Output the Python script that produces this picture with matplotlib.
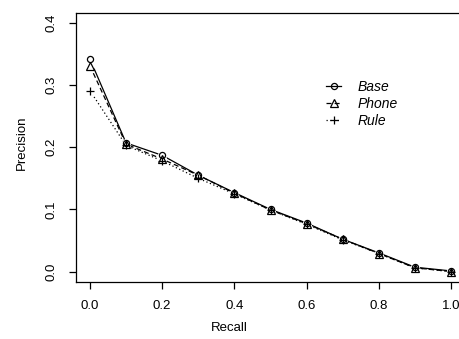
import matplotlib
matplotlib.use("Agg")
import matplotlib.pyplot as plt

recall = [0.0, 0.1, 0.2, 0.3, 0.4, 0.5, 0.6, 0.7, 0.8, 0.9, 1.0]
base = [0.342, 0.207, 0.187, 0.155, 0.127, 0.100, 0.078, 0.052, 0.030, 0.007, 0.001]
phone = [0.331, 0.205, 0.181, 0.155, 0.126, 0.099, 0.077, 0.052, 0.029, 0.006, 0.000]
rule = [0.291, 0.203, 0.178, 0.150, 0.125, 0.099, 0.076, 0.051, 0.029, 0.006, 0.000]

series = [
    ("Base", base, "-", "o", 4.4),
    ("Phone", phone, (0, (4, 2.5)), "^", 5.2),
    ("Rule", rule, (0, (1, 2)), "+", 5.5),
]

plt.rcParams["font.family"] = ["Liberation Sans", "DejaVu Sans"]

W, H = 459, 339
fig = plt.figure(figsize=(W / 100, H / 100), dpi=100)
x0, x1, y0, y1 = 75.5, 465.5, 13, 281.5
ax = fig.add_axes([x0 / W, (H - y1) / H, (x1 - x0) / W, (y1 - y0) / H])

handles = []
for name, vals, ls, mk, ms in series:
    ax.plot(recall, vals, color="black", lw=0.9, ls=ls, zorder=2)
# small white gaps round the points, like R's type="b"
for name, vals, ls, mk, ms in series:
    ax.plot(recall, vals, ls="none", marker="o", ms=6.5, mfc="white",
            mec="none", zorder=3)
for name, vals, ls, mk, ms in series:
    ax.plot(recall, vals, ls="none", marker=mk, ms=ms, mfc="none",
            mec="black", mew=0.9, zorder=4)
    h, = ax.plot([], [], color="black", lw=0.9, ls=ls, marker=mk, ms=ms,
                 mfc="none", mec="black", mew=0.9)
    handles.append(h)

ax.set_xlim(-0.04, 1.04)
ax.set_ylim(-0.016, 0.416)
ax.set_xticks([0.0, 0.2, 0.4, 0.6, 0.8, 1.0])
ax.set_yticks([0.0, 0.1, 0.2, 0.3, 0.4])
ax.set_xticklabels(["0.0", "0.2", "0.4", "0.6", "0.8", "1.0"])
ax.set_yticklabels(["0.0", "0.1", "0.2", "0.3", "0.4"], rotation=90, va="center")
ax.tick_params(direction="out", length=5, width=0.9, labelsize=9.5, color="black")
ax.tick_params(axis="x", pad=8)
ax.tick_params(axis="y", pad=8)
for s in ax.spines.values():
    s.set_linewidth(0.9)

ax.set_xlabel("Recall", fontsize=9.5)
ax.set_ylabel("Precision", fontsize=9.5)
ax.xaxis.label.set_va("center")
ax.yaxis.label.set_va("center")
ax.xaxis.set_label_coords((229 - x0) / (x1 - x0), (y1 - 328) / (y1 - y0))
ax.yaxis.set_label_coords((22 - x0) / (x1 - x0), (y1 - 143) / (y1 - y0))

leg = ax.legend(handles, [s[0] for s in series], loc="upper left",
                bbox_to_anchor=((326 - x0) / (x1 - x0), (y1 - 80) / (y1 - y0)),
                frameon=False, handlelength=1.1, handletextpad=1.2,
                labelspacing=0.2, borderpad=0, borderaxespad=0,
                prop={"size": 10, "style": "italic"})

fig.savefig("out.png", dpi=100)
